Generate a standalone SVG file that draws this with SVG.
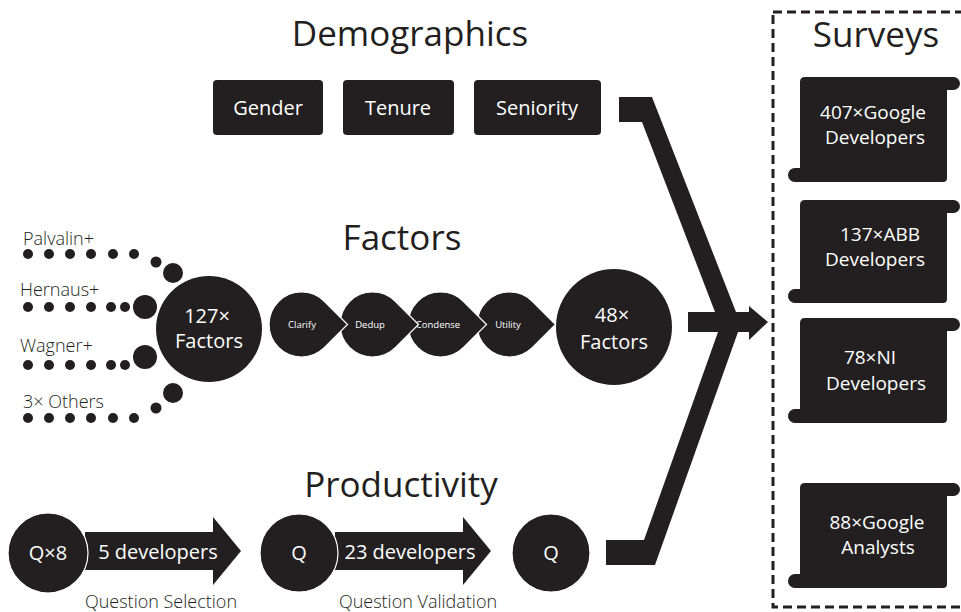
<svg xmlns="http://www.w3.org/2000/svg" width="961" height="612" viewBox="0 0 961 612">
<style>
.f{fill:#231f20}
.t{font-family:"Open Sans","Noto Sans","Liberation Sans",sans-serif;fill:#231f20}
.title{font-size:35px;text-anchor:middle}
.lbl{font-size:18px;font-weight:300}
.w{font-family:"Open Sans","Noto Sans","Liberation Sans",sans-serif;fill:#ffffff;text-anchor:middle}
.m{font-size:20px}
.c{font-size:19px}
.s{font-size:9.5px}
.drop{fill:#231f20;stroke:#ffffff;stroke-width:1.2}
.circ{fill:#231f20;stroke:#ffffff;stroke-width:1.2}
</style>
<rect width="961" height="612" fill="#ffffff"/>

<!-- Titles -->
<text class="t title" x="410" y="46">Demographics</text>
<text class="t title" x="402" y="250">Factors</text>
<text class="t title" x="401" y="497">Productivity</text>
<text class="t title" x="876" y="47">Surveys</text>

<!-- Demographics -->
<g id="gender"><rect class="f" x="213" y="80" width="110" height="55" rx="4"/><text class="w m" x="268" y="115">Gender</text></g>
<g id="tenure"><rect class="f" x="343" y="80" width="111" height="55" rx="4"/><text class="w m" x="398" y="115">Tenure</text></g>
<g id="seniority"><rect class="f" x="474" y="80" width="127" height="55" rx="4"/><text class="w m" x="537" y="115">Seniority</text></g>

<!-- Sources -->
<g id="palvalin">
<text class="t lbl" x="23" y="245">Palvalin+</text>
<g class="f"><circle cx="28" cy="254" r="5"/><circle cx="49" cy="254" r="5"/><circle cx="70" cy="254" r="5"/><circle cx="91" cy="254" r="5"/><circle cx="113" cy="254" r="5"/><circle cx="134" cy="254" r="5"/><circle cx="156" cy="262" r="5.5"/><circle cx="173" cy="273" r="10"/></g>
</g>
<g id="hernaus">
<text class="t lbl" x="20" y="296">Hernaus+</text>
<g class="f"><circle cx="28" cy="307" r="5"/><circle cx="49" cy="307" r="5"/><circle cx="70" cy="307" r="5"/><circle cx="91" cy="307" r="5"/><circle cx="111" cy="307" r="5"/><circle cx="125" cy="307" r="5"/><circle cx="145" cy="307" r="12"/></g>
</g>
<g id="wagner">
<text class="t lbl" x="20" y="352">Wagner+</text>
<g class="f"><circle cx="28" cy="365" r="5"/><circle cx="49" cy="365" r="5"/><circle cx="70" cy="365" r="5"/><circle cx="91" cy="365" r="5"/><circle cx="111" cy="365" r="5"/><circle cx="125" cy="365" r="5"/><circle cx="145" cy="357" r="12"/></g>
</g>
<g id="others">
<text class="t lbl" x="23" y="408">3× Others</text>
<g class="f"><circle cx="28" cy="418" r="5"/><circle cx="49" cy="418" r="5"/><circle cx="70" cy="418" r="5"/><circle cx="91" cy="418" r="5"/><circle cx="113" cy="418" r="5"/><circle cx="134" cy="418" r="5"/><circle cx="156" cy="408" r="5.5"/><circle cx="173" cy="393" r="10"/></g>
</g>

<g id="factors127"><circle class="f" cx="209" cy="329" r="53"/><text class="w m" x="207" y="323">127×</text><text class="w m" x="209" y="348">Factors</text></g>

<!-- Drops (drawn right to left so earlier tips overlap) -->
<g id="utility"><path class="drop" d="M555.5,324.5 L532.5,301.5 A32.5,32.5 0 1 0 532.5,347.5 Z"/><text class="w s" x="508" y="328">Utility</text></g>
<g id="condense"><path class="drop" d="M486.5,324.5 L463.5,301.5 A32.5,32.5 0 1 0 463.5,347.5 Z"/><text class="w s" x="438" y="328">Condense</text></g>
<g id="dedup"><path class="drop" d="M418.5,324.5 L395.5,301.5 A32.5,32.5 0 1 0 395.5,347.5 Z"/><text class="w s" x="370" y="328">Dedup</text></g>
<g id="clarify"><path class="drop" d="M347.5,324.5 L324.5,301.5 A32.5,32.5 0 1 0 324.5,347.5 Z"/><text class="w s" x="302" y="328">Clarify</text></g>

<g id="factors48"><circle class="f" cx="614" cy="327" r="58"/><text class="w m" x="612" y="322">48×</text><text class="w m" x="614" y="349">Factors</text></g>

<!-- Productivity -->
<g id="arrow1"><path class="f" d="M85,532 H213 V517 L241,551 L213,585 V570 H85 Z"/><text class="w m" x="158" y="559">5 developers</text></g>
<g id="q8"><circle class="circ" cx="48" cy="553" r="40"/><text class="w m" x="48" y="560">Q×8</text></g>
<text class="t lbl" x="161" y="608" text-anchor="middle">Question Selection</text>

<g id="arrow2"><path class="f" d="M335,532 H463 V517 L491,551 L463,585 V570 H335 Z"/><text class="w m" x="410" y="559">23 developers</text></g>
<g id="q1"><circle class="circ" cx="299" cy="553" r="39"/><text class="w m" x="299" y="560">Q</text></g>
<text class="t lbl" x="418" y="608" text-anchor="middle">Question Validation</text>

<g id="q2"><circle class="circ" cx="551" cy="553" r="39"/><text class="w m" x="551" y="560">Q</text></g>

<!-- Connectors -->
<g id="connectors">
<path class="f" d="M619,97 H652 L736,312 H749 V306 L768,322 L749,340 V332 H738 L655,565 H606 V540 H644 L718,332 H688 V312 H715 L642,122 H619 Z"/>
</g>

<!-- Surveys -->
<rect x="773" y="12" width="195" height="595" fill="none" stroke="#231f20" stroke-width="3" stroke-dasharray="9,5"/>
<g id="survey1"><path class="f" d="M805,77 H953.5 A6.5,6.5 0 0 1 953.5,90 H947 V178 Q947,182 943,182 H795 A7,7 0 0 1 795,168 H800 V82 Q800,77 805,77 Z"/><text class="w c" x="873" y="119">407×Google</text><text class="w c" x="875" y="144">Developers</text></g>
<g id="survey2"><path class="f" d="M805,200 H953.5 A6.5,6.5 0 0 1 953.5,213 H947 V299 Q947,303 943,303 H795 A7,7 0 0 1 795,289 H800 V205 Q800,200 805,200 Z"/><text class="w c" x="880" y="241">137×ABB</text><text class="w c" x="875" y="266">Developers</text></g>
<g id="survey3"><path class="f" d="M805,318 H953.5 A6.5,6.5 0 0 1 953.5,331 H947 V419 Q947,423 943,423 H795 A7,7 0 0 1 795,409 H800 V323 Q800,318 805,318 Z"/><text class="w c" x="870" y="364">78×NI</text><text class="w c" x="876" y="390">Developers</text></g>
<g id="survey4"><path class="f" d="M805,483 H953.5 A6.5,6.5 0 0 1 953.5,496 H947 V584 Q947,588 943,588 H795 A7,7 0 0 1 795,574 H800 V488 Q800,483 805,483 Z"/><text class="w c" x="877" y="529">88×Google</text><text class="w c" x="878" y="554">Analysts</text></g>
</svg>
